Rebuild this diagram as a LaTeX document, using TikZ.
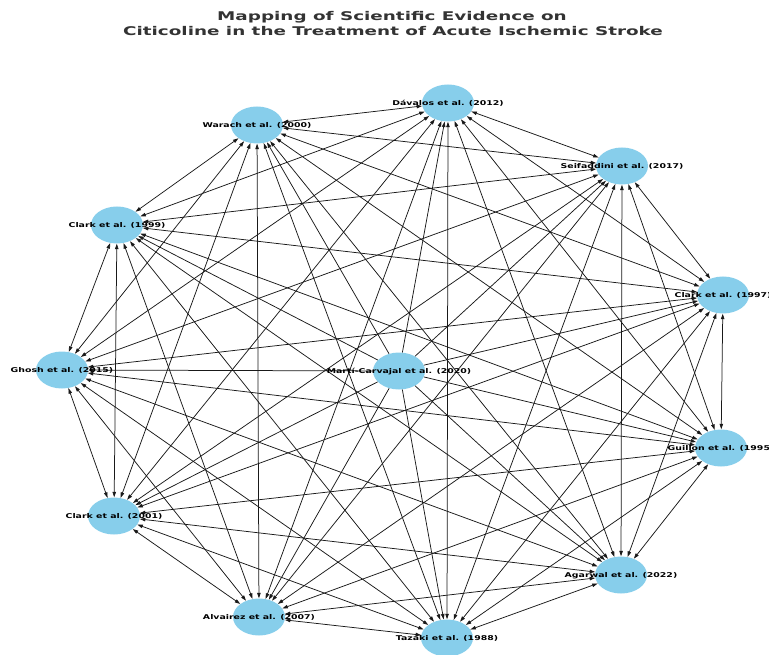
\documentclass[tikz,border=0pt]{standalone}
\usepackage{fontspec}
\setmainfont{DejaVu Sans}
\usepackage{graphicx}
\usetikzlibrary{arrows.meta,shapes.geometric}
\definecolor{skyblue}{HTML}{87CEEB}
\newcommand{\mylab}[1]{\scalebox{1.42}[1]{#1}}
\newcommand{\mytitle}[1]{\scalebox{1.53}[1]{#1}}
\begin{document}
\begin{tikzpicture}[x=1pt,y=-1pt,
  vert/.style={ellipse, fill=skyblue, minimum width=52pt, minimum height=37pt, inner sep=0pt},
  lbl/.style={font=\fontsize{6.6}{7}\selectfont\bfseries, inner sep=0pt, anchor=mid},
  ttl/.style={font=\fontsize{12}{14}\selectfont\bfseries, text=black!80, inner sep=0pt, anchor=base},
  tip/.style={line width=0.75pt, draw=black!90},
  bi/.style={tip, {Triangle[length=5.5pt,width=3.5pt]}-{Triangle[length=5.5pt,width=3.5pt]}},
  uni/.style={tip, -{Triangle[length=5.5pt,width=3.5pt]}}]
\useasboundingbox (0,0) rectangle (769,655);
\node[ttl] (t1) at (392,21) {\mytitle{Mapping of Scientific Evidence on}};
\node[ttl] (t2) at (393,36) {\mytitle{Citicoline in the Treatment of Acute Ischemic Stroke}};
% nodes
\node[vert] (dav) at (448,103) {};
\node[vert] (war) at (257,125) {};
\node[vert] (sei) at (622,166) {};
\node[vert] (c99) at (117,225) {};
\node[vert] (c97) at (723,295) {};
\node[vert] (gho) at (62,370) {};
\node[vert] (mar) at (399,371) {};
\node[vert] (gui) at (721,448) {};
\node[vert] (c01) at (114,516) {};
\node[vert] (aga) at (621,575) {};
\node[vert] (alv) at (259,617) {};
\node[vert] (taz) at (447,638) {};
% edges
\foreach \a [count=\i] in {dav,sei,c97,gui,aga,taz,alv,c01,gho,c99,war}{
  \foreach \b [count=\j] in {dav,sei,c97,gui,aga,taz,alv,c01,gho,c99,war}{
    \ifnum\j>\i \draw[bi] (\a) -- (\b);\fi
  }
}
\foreach \b in {dav,sei,c97,gui,aga,taz,alv,c01,gho,c99,war}{
  \draw[uni] (mar) -- (\b);
}
% labels
\node[lbl] (dav-l) at (dav.center) {\mylab{Dávalos et al. (2012)}};
\node[lbl] (war-l) at (war.center) {\mylab{Warach et al. (2000)}};
\node[lbl] (sei-l) at (sei.center) {\mylab{Seifaddini et al. (2017)}};
\node[lbl] (c99-l) at (c99.center) {\mylab{Clark et al. (1999)}};
\node[lbl] (c97-l) at (c97.center) {\mylab{Clark et al. (1997)}};
\node[lbl] (gho-l) at (gho.center) {\mylab{Ghosh et al. (2015)}};
\node[lbl] (mar-l) at (mar.center) {\mylab{Martí-Carvajal et al. (2020)}};
\node[lbl] (gui-l) at (gui.center) {\mylab{Guillon et al. (1995)}};
\node[lbl] (c01-l) at (c01.center) {\mylab{Clark et al. (2001)}};
\node[lbl] (aga-l) at (aga.center) {\mylab{Agarwal et al. (2022)}};
\node[lbl] (alv-l) at (alv.center) {\mylab{Alvairez et al. (2007)}};
\node[lbl] (taz-l) at (taz.center) {\mylab{Tazaki et al. (1988)}};
\end{tikzpicture}
\end{document}
